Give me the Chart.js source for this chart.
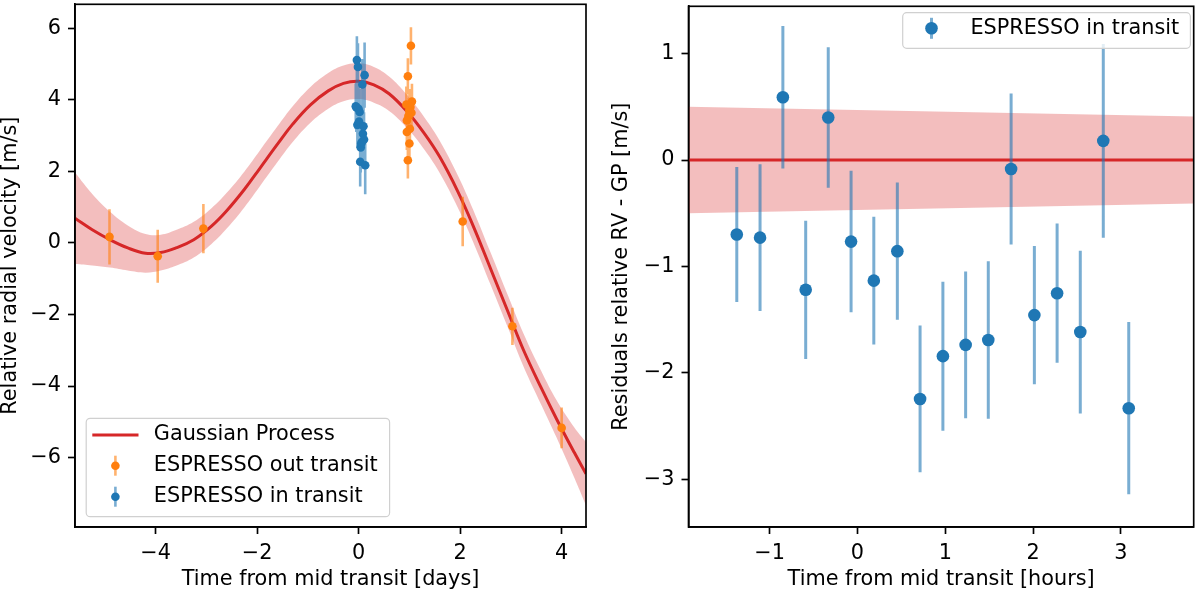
<!DOCTYPE html>
<html><head><meta charset="utf-8">
<script src="https://cdn.jsdelivr.net/npm/chart.js@4.4.1/dist/chart.umd.min.js"></script>
<style>
html,body{margin:0;padding:0;background:#fff;width:1200px;height:592px;overflow:hidden}
.box{position:absolute;top:0;width:600px;height:592px}
canvas{display:block}
</style></head><body>
<div class="box" style="left:0"><canvas id="c1" width="600" height="592" style="width:600px;height:592px"></canvas></div>
<div class="box" style="left:600px"><canvas id="c2" width="600" height="592" style="width:600px;height:592px"></canvas></div>
<script>
// ---------- Left panel data ----------
const gpDays  = [-5.59,-5.25,-4.9,-4.55,-4.2,-3.9,-3.6,-3.25,-2.9,-2.6,-2.25,-1.95,-1.6,-1.3,-0.95,-0.6,-0.3,0,0.3,0.6,0.95,1.3,1.6,1.95,2.25,2.6,2.95,3.25,3.6,3.9,4.25,4.48];
const gpMean  = [0.69,0.37,0.09,-0.14,-0.29,-0.27,-0.14,0.09,0.47,0.90,1.50,2.08,2.76,3.32,3.86,4.25,4.46,4.52,4.42,4.17,3.68,3.05,2.40,1.45,0.50,-0.72,-1.95,-3.00,-4.06,-4.92,-5.86,-6.45];
const gpSigma = [1.28,1.00,0.78,0.63,0.54,0.50,0.50,0.50,0.50,0.50,0.50,0.50,0.50,0.50,0.50,0.50,0.50,0.50,0.50,0.48,0.46,0.45,0.45,0.45,0.45,0.45,0.45,0.46,0.47,0.52,0.70,0.88];

const outDays = [-4.91,-3.96,-3.06,1.03,0.97,1.05,0.94,1.02,1.00,1.04,0.98,0.95,1.01,0.95,1.00,0.97,2.05,3.03,4.00];
const outRV   = [0.17,-0.37,0.40,5.51,4.66,3.95,3.87,3.80,3.70,3.64,3.55,3.42,3.19,3.10,2.78,2.31,0.60,-2.33,-5.17];
const outErr  = [0.77,0.74,0.69,0.52,0.50,0.50,0.50,0.50,0.50,0.50,0.50,0.50,0.50,0.50,0.50,0.51,0.69,0.52,0.57];

const inDays = [-0.057,-0.046,-0.035,-0.025,-0.014,-0.003,0.008,0.019,0.030,0.041,0.051,0.062,0.073,0.084,0.095,0.106,0.117,0.129];
const inRV   = [3.82,3.79,5.11,3.30,4.92,3.75,3.39,3.66,2.27,2.67,2.78,2.82,4.43,3.05,3.26,2.89,4.69,2.17];
const inErr  = [0.635,0.69,0.67,0.65,0.66,0.665,0.60,0.645,0.69,0.70,0.69,0.74,0.71,0.65,0.655,0.765,0.91,0.81];

// ---------- Right panel data ----------
const inHours   = [-1.375,-1.11,-0.85,-0.59,-0.333,-0.073,0.186,0.454,0.713,0.973,1.232,1.49,1.75,2.015,2.274,2.538,2.80,3.09];
const residRV   = [-0.70,-0.73,0.59,-1.22,0.40,-0.767,-1.134,-0.857,-2.246,-1.844,-1.738,-1.692,-0.084,-1.458,-1.252,-1.617,0.18,-2.333];
const residErr  = [0.635,0.69,0.67,0.65,0.66,0.665,0.60,0.645,0.69,0.70,0.69,0.74,0.71,0.65,0.655,0.765,0.91,0.81];
const residGpHours = [-1.925,3.83];
const residGpMean  = [0,0];
const residGpSigma = [0.50,0.41];

// ---------- Axes ----------
const leftXTicks  = [-4,-2,0,2,4];
const leftYTicks  = [-6,-4,-2,0,2,4,6];
const rightXTicks = [-1,0,1,2,3];
const rightYTicks = [-3,-2,-1,0,1];
const leftXTitle  = 'Time from mid transit [days]';
const leftYTitle  = 'Relative radial velocity [m/s]';
const rightXTitle = 'Time from mid transit [hours]';
const rightYTitle = 'Residuals relative RV - GP [m/s]';
const labelGP = 'Gaussian Process';
const labelOut = 'ESPRESSO out transit';
const labelIn = 'ESPRESSO in transit';

const FONT = '"DejaVu Sans", sans-serif';
const FS = 20.8;
const RED = '#d62728', BLUE = '#1f77b4', ORANGE = '#ff7f0e';
const BAND = 'rgba(214,39,40,0.3)';
const BLUE_E = 'rgba(31,119,180,0.6)', ORANGE_E = 'rgba(255,127,14,0.6)';
const fmt = v => (v < 0 ? '\u2212' + Math.abs(v) : String(v));

function errData(xs, ys, es) {
  const d = [];
  xs.forEach((x, i) => { d.push({x, y: ys[i] - es[i]}); d.push({x, y: ys[i] + es[i]}); d.push({x, y: null}); });
  return d;
}
function pts(xs, ys) { return xs.map((x, i) => ({x, y: ys[i]})); }

function axis(pos, min, max, ticks, title, titlePad, size) {
  return {
    type: 'linear', position: pos, min, max,
    afterBuildTicks: s => { s.ticks = ticks.map(v => ({value: v})); },
    afterFit: s => {
      if (pos === 'left') s.width = size; else s.height = size;
      s.paddingTop = 0; s.paddingBottom = 0; s.paddingLeft = 0; s.paddingRight = 0;
    },
    grid: {display: true, drawOnChartArea: false, drawTicks: true, tickLength: 7, tickWidth: 1.67, tickColor: '#000', color: '#000'},
    border: {display: true, color: '#000', width: 1.67},
    ticks: {color: '#000', font: {family: FONT, size: FS}, padding: 7, autoSkip: false, maxRotation: 0, callback: v => fmt(v)},
    title: {display: true, text: title, color: '#000', font: {family: FONT, size: FS}, padding: titlePad}
  };
}

function roundRect(ctx, x, y, w, h, r) {
  ctx.beginPath();
  ctx.moveTo(x + r, y); ctx.lineTo(x + w - r, y); ctx.arcTo(x + w, y, x + w, y + r, r);
  ctx.lineTo(x + w, y + h - r); ctx.arcTo(x + w, y + h, x + w - r, y + h, r);
  ctx.lineTo(x + r, y + h); ctx.arcTo(x, y + h, x, y + h - r, r);
  ctx.lineTo(x, y + r); ctx.arcTo(x, y, x + r, y, r); ctx.closePath();
}

function framePlugin(legend) {
  return {
    id: 'frameLegend',
    afterDraw(chart) {
      const ctx = chart.ctx, a = chart.chartArea;
      ctx.save();
      ctx.strokeStyle = '#000'; ctx.lineWidth = 1.67;
      ctx.strokeRect(a.left, a.top, a.right - a.left, a.bottom - a.top);
      const b = legend.box;
      roundRect(ctx, b.x, b.y, b.w, b.h, 4);
      ctx.fillStyle = 'rgba(255,255,255,0.8)'; ctx.fill();
      ctx.strokeStyle = '#d0d0d0'; ctx.lineWidth = 1.2; ctx.stroke();
      ctx.font = FS + 'px ' + FONT; ctx.textBaseline = 'middle'; ctx.textAlign = 'left';
      legend.rows.forEach(r => {
        if (r.type === 'line') {
          ctx.strokeStyle = r.color; ctx.lineWidth = 3;
          ctx.beginPath(); ctx.moveTo(legend.h0, r.y); ctx.lineTo(legend.h1, r.y); ctx.stroke();
        } else {
          const cx = (legend.h0 + legend.h1) / 2;
          ctx.strokeStyle = r.ecolor; ctx.lineWidth = legend.ew;
          ctx.beginPath(); ctx.moveTo(cx, r.y - legend.eh); ctx.lineTo(cx, r.y + legend.eh); ctx.stroke();
          ctx.fillStyle = r.color; ctx.beginPath(); ctx.arc(cx, r.y, legend.mr, 0, Math.PI * 2); ctx.fill();
        }
        ctx.fillStyle = '#000';
        ctx.fillText(r.text, legend.tx, r.y);
      });
      ctx.restore();
    }
  };
}

Chart.defaults.color = '#000';
Chart.defaults.font.family = FONT;

// ---------- Left chart ----------
new Chart(document.getElementById('c1'), {
  type: 'scatter',
  data: {datasets: [
    {data: pts(gpDays, gpMean.map((m, i) => m + gpSigma[i])), showLine: true, fill: '+1', backgroundColor: BAND, borderColor: 'rgba(0,0,0,0)', borderWidth: 1, pointRadius: 0, tension: 0.4, order: 10},
    {data: pts(gpDays, gpMean.map((m, i) => m - gpSigma[i])), showLine: true, fill: false, borderColor: 'rgba(0,0,0,0)', borderWidth: 1, pointRadius: 0, tension: 0.4, order: 10},
    {data: pts(gpDays, gpMean), showLine: true, borderColor: RED, borderWidth: 3, pointRadius: 0, tension: 0.4, order: 9},
    {data: errData(outDays, outRV, outErr), showLine: true, spanGaps: false, borderColor: ORANGE_E, borderWidth: 2.6, pointRadius: 0, order: 6},
    {data: pts(outDays, outRV), pointRadius: 4.3, pointBackgroundColor: ORANGE, pointBorderWidth: 0, order: 5},
    {data: errData(inDays, inRV, inErr), showLine: true, spanGaps: false, borderColor: BLUE_E, borderWidth: 2.6, pointRadius: 0, order: 4},
    {data: pts(inDays, inRV), pointRadius: 4.3, pointBackgroundColor: BLUE, pointBorderWidth: 0, order: 3}
  ]},
  options: {
    responsive: false, animation: false, events: [],
    layout: {padding: {top: 2, right: 14, left: 0, bottom: 0}},
    plugins: {legend: {display: false}, tooltip: {enabled: false}},
    scales: {
      x: axis('bottom', -5.59, 4.48, leftXTicks, leftXTitle, {top: 0, bottom: 0}, 65),
      y: axis('left', -7.94, 6.67, leftYTicks, leftYTitle, {top: -2, bottom: 0}, 75)
    }
  },
  plugins: [framePlugin({
    box: {x: 86.2, y: 418.3, w: 303.4, h: 98.4},
    h0: 92.3, h1: 138.5, tx: 153.8, mr: 4.3, eh: 10, ew: 2.6,
    rows: [
      {type: 'line', color: RED, y: 435, text: labelGP},
      {type: 'err', color: ORANGE, ecolor: ORANGE_E, y: 465.7, text: labelOut},
      {type: 'err', color: BLUE, ecolor: BLUE_E, y: 496.7, text: labelIn}
    ]
  })]
});

// ---------- Right chart ----------
new Chart(document.getElementById('c2'), {
  type: 'scatter',
  data: {datasets: [
    {data: pts(residGpHours, residGpMean.map((m, i) => m + residGpSigma[i])), showLine: true, fill: '+1', backgroundColor: BAND, borderColor: 'rgba(0,0,0,0)', borderWidth: 1, pointRadius: 0, order: 10},
    {data: pts(residGpHours, residGpMean.map((m, i) => m - residGpSigma[i])), showLine: true, fill: false, borderColor: 'rgba(0,0,0,0)', borderWidth: 1, pointRadius: 0, order: 10},
    {data: pts(residGpHours, residGpMean), showLine: true, borderColor: RED, borderWidth: 3, pointRadius: 0, order: 9},
    {data: errData(inHours, residRV, residErr), showLine: true, spanGaps: false, borderColor: BLUE_E, borderWidth: 3, pointRadius: 0, order: 4},
    {data: pts(inHours, residRV), pointRadius: 6.3, pointBackgroundColor: BLUE, pointBorderWidth: 0, order: 3}
  ]},
  options: {
    responsive: false, animation: false, events: [],
    layout: {padding: {top: 2, right: 2, left: 0, bottom: 0}},
    plugins: {legend: {display: false}, tooltip: {enabled: false}},
    scales: {
      x: axis('bottom', -1.925, 3.83, rightXTicks, rightXTitle, {top: 0, bottom: 0}, 65),
      y: axis('left', -3.45, 1.445, rightYTicks, rightYTitle, {top: 9, bottom: 0}, 88.5)
    }
  },
  plugins: [framePlugin({
    box: {x: 302.7, y: 12.7, w: 287.7, h: 35.6},
    h0: 310.5, h1: 352.5, tx: 370.4, mr: 6.3, eh: 10.5, ew: 3,
    rows: [
      {type: 'err', color: BLUE, ecolor: BLUE_E, y: 28.3, text: labelIn}
    ]
  })]
});
</script></body></html>
